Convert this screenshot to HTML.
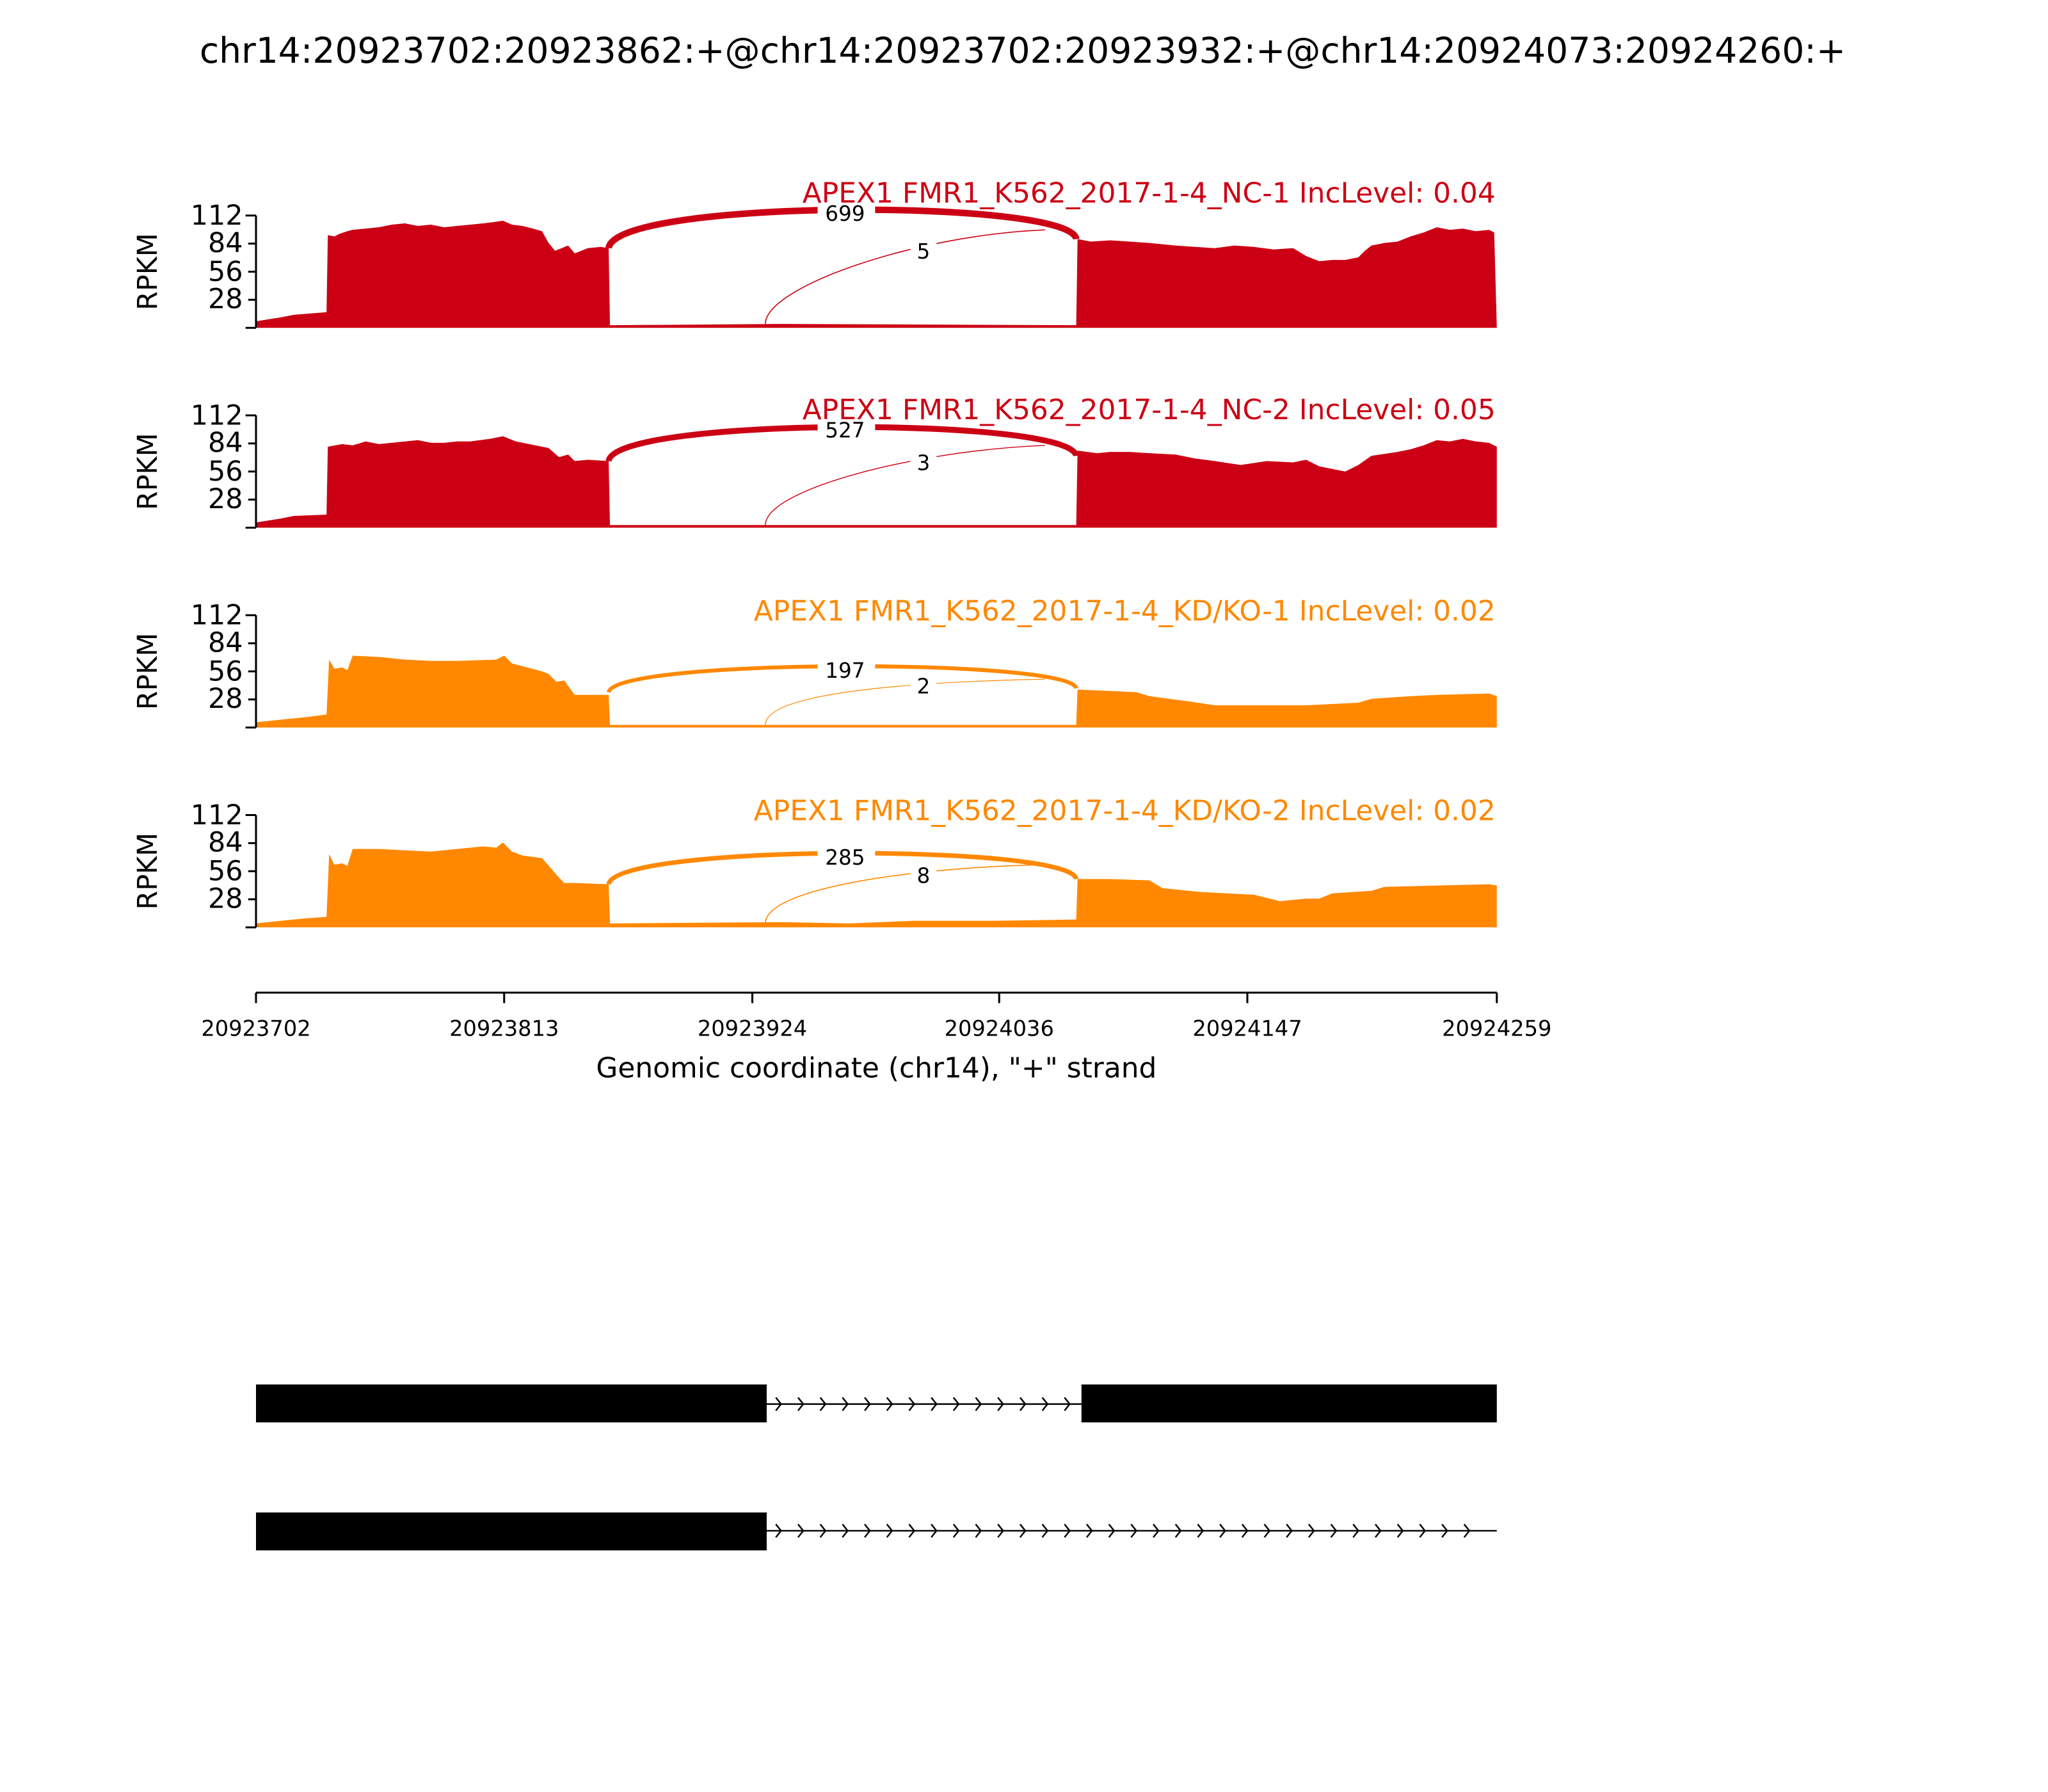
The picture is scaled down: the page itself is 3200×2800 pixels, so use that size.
<!DOCTYPE html>
<html><head><meta charset="utf-8"><style>
html,body{margin:0;padding:0;background:#fff;}
svg{display:block;}
text{font-family:"DejaVu Sans","Liberation Sans",sans-serif;}
</style></head><body>
<svg width="3200" height="2800" viewBox="0 0 1568 1372" xmlns="http://www.w3.org/2000/svg">
<defs>
<pattern id="chev" x="590" y="0" width="17" height="1400" patternUnits="userSpaceOnUse">
<path d="M4,-5 L8,0 L4,5" fill="none" stroke="#000" stroke-width="1.2" transform="translate(0,1075)"/>
<path d="M4,-5 L8,0 L4,5" fill="none" stroke="#000" stroke-width="1.2" transform="translate(0,1172)"/>
</pattern>
</defs>
<rect width="1568" height="1372" fill="#fff"/>
<text x="783" y="48" font-size="27" text-anchor="middle">chr14:20923702:20923862:+@chr14:20923702:20923932:+@chr14:20924073:20924260:+</text>

<!-- Panel 1 -->
<g>
<path fill="#cc0014" d="M196,251 L196,246 L215,243 L225,241 L250,239 L251,180 L256,181 L260,179 L266,177 L270,176 L280,175 L290,174 L300,172 L310,171 L320,173 L330,172 L340,174 L350,173 L360,172 L370,171 L378,170 L385,169 L392,172 L400,173 L408,175 L415,177 L420,186 L425,192 L430,190 L435,188 L440,194 L445,192 L450,190 L460,189 L466,190 L467,249 L600,248 L824,249 L825,183 L835,185 L850,184 L865,185 L880,186 L890,187 L900,188 L915,189 L930,190 L945,188 L960,189 L975,191 L990,190 L1000,196 L1010,200 L1020,199 L1030,199 L1040,197 L1045,192 L1050,188 L1060,186 L1070,185 L1080,181 L1090,178 L1100,174 L1110,176 L1120,175 L1130,177 L1140,176 L1144,178 L1146,251 Z"/>
<path d="M466,190 C470,152 820,152 824,183" fill="none" stroke="#cc0014" stroke-width="5"/>
<path d="M586,248 C586,220 700,180 800,176" fill="none" stroke="#cc0014" stroke-width="0.8"/>
<rect x="626" y="153" width="44" height="19" fill="#fff"/>
<text x="647" y="169" font-size="16" text-anchor="middle">699</text>
<rect x="697" y="182" width="20" height="19" fill="#fff"/>
<text x="707" y="198" font-size="16" text-anchor="middle">5</text>
<text x="1145" y="155" font-size="21.5" text-anchor="end" fill="#cc0014">APEX1 FMR1_K562_2017-1-4_NC-1 IncLevel: 0.04</text>
<path d="M196,165 V251 M188,165 H196 M190,186.5 H196 M190,208 H196 M190,229.5 H196 M188,251 H196" stroke="#000" stroke-width="1.5" fill="none"/>
<g font-size="21" text-anchor="end"><text x="186" y="172">112</text><text x="186" y="193">84</text><text x="186" y="215">56</text><text x="186" y="236">28</text></g>
<text transform="translate(120,208) rotate(-90)" font-size="21" text-anchor="middle">RPKM</text>
</g>

<!-- Panel 2 -->
<g>
<path fill="#cc0014" d="M196,404 L196,400 L215,397 L225,395 L250,394 L251,342 L262,340 L270,341 L280,338 L290,340 L300,339 L310,338 L320,337 L330,339 L340,339 L350,338 L360,338 L375,336 L385,334 L395,338 L410,341 L420,343 L428,350 L435,348 L440,353 L450,352 L466,353 L467,402 L824,402 L825,345 L840,347 L850,346 L865,346 L880,347 L900,348 L915,351 L930,353 L950,356 L970,353 L990,354 L1000,352 L1010,357 L1030,361 L1040,356 L1050,349 L1070,346 L1080,344 L1090,341 L1100,337 L1110,338 L1120,336 L1130,338 L1140,339 L1146,342 L1146,404 Z"/>
<path d="M466,353 C470,319 820,319 824,349" fill="none" stroke="#cc0014" stroke-width="4.5"/>
<path d="M586,402 C586,375 700,345 800,341" fill="none" stroke="#cc0014" stroke-width="0.7"/>
<rect x="626" y="319" width="44" height="19" fill="#fff"/>
<text x="647" y="335" font-size="16" text-anchor="middle">527</text>
<rect x="697" y="344" width="20" height="19" fill="#fff"/>
<text x="707" y="360" font-size="16" text-anchor="middle">3</text>
<text x="1145" y="321" font-size="21.5" text-anchor="end" fill="#cc0014">APEX1 FMR1_K562_2017-1-4_NC-2 IncLevel: 0.05</text>
<path d="M196,318 V404 M188,318 H196 M190,339.5 H196 M190,361 H196 M190,382.5 H196 M188,404 H196" stroke="#000" stroke-width="1.5" fill="none"/>
<g font-size="21" text-anchor="end"><text x="186" y="325">112</text><text x="186" y="346">84</text><text x="186" y="368">56</text><text x="186" y="389">28</text></g>
<text transform="translate(120,361) rotate(-90)" font-size="21" text-anchor="middle">RPKM</text>
</g>

<!-- Panel 3 -->
<g>
<path fill="#ff8800" d="M196,557 L196,553 L215,551 L235,549 L250,547 L252,505 L256,512 L262,511 L266,513 L270,502 L290,503 L310,505 L330,506 L350,506 L380,505 L386,502 L392,508 L400,510 L415,514 L420,516 L426,522 L432,521 L440,532 L466,532 L467,555 L824,555 L825,528 L850,529 L870,530 L880,533 L910,537 L930,540 L960,540 L1000,540 L1020,539 L1040,538 L1050,535 L1080,533 L1100,532 L1140,531 L1146,533 L1146,557 Z"/>
<path d="M466,530 C470,504 820,504 824,527" fill="none" stroke="#ff8800" stroke-width="3"/>
<path d="M586,555 C586,530 700,522 800,520" fill="none" stroke="#ff8800" stroke-width="0.6"/>
<rect x="626" y="503" width="44" height="19" fill="#fff"/>
<text x="647" y="519" font-size="16" text-anchor="middle">197</text>
<rect x="697" y="515" width="20" height="19" fill="#fff"/>
<text x="707" y="531" font-size="16" text-anchor="middle">2</text>
<text x="1145" y="475" font-size="21.5" text-anchor="end" fill="#ff8800">APEX1 FMR1_K562_2017-1-4_KD/KO-1 IncLevel: 0.02</text>
<path d="M196,471 V557 M188,471 H196 M190,492.5 H196 M190,514 H196 M190,535.5 H196 M188,557 H196" stroke="#000" stroke-width="1.5" fill="none"/>
<g font-size="21" text-anchor="end"><text x="186" y="478">112</text><text x="186" y="499">84</text><text x="186" y="521">56</text><text x="186" y="542">28</text></g>
<text transform="translate(120,514) rotate(-90)" font-size="21" text-anchor="middle">RPKM</text>
</g>

<!-- Panel 4 -->
<g>
<path fill="#ff8800" d="M196,710 L196,707 L215,705 L235,703 L250,702 L252,654 L256,662 L262,661 L266,663 L270,650 L290,650 L310,651 L330,652 L350,650 L370,648 L380,649 L385,645 L392,652 L400,655 L415,657 L422,665 L428,672 L432,676 L440,676 L466,677 L467,707 L600,706 L650,707 L700,705 L760,705 L824,704 L825,673 L850,673 L880,674 L890,680 L920,683 L960,685 L980,690 L1000,688 L1010,688 L1020,684 L1050,682 L1060,679 L1100,678 L1140,677 L1146,678 L1146,710 Z"/>
<path d="M466,677 C470,646 820,646 824,673" fill="none" stroke="#ff8800" stroke-width="3.5"/>
<path d="M586,707 C586,680 700,664 800,662" fill="none" stroke="#ff8800" stroke-width="0.8"/>
<rect x="626" y="646" width="44" height="19" fill="#fff"/>
<text x="647" y="662" font-size="16" text-anchor="middle">285</text>
<rect x="697" y="660" width="20" height="19" fill="#fff"/>
<text x="707" y="676" font-size="16" text-anchor="middle">8</text>
<text x="1145" y="628" font-size="21.5" text-anchor="end" fill="#ff8800">APEX1 FMR1_K562_2017-1-4_KD/KO-2 IncLevel: 0.02</text>
<path d="M196,624 V710 M188,624 H196 M190,645.5 H196 M190,667 H196 M190,688.5 H196 M188,710 H196" stroke="#000" stroke-width="1.5" fill="none"/>
<g font-size="21" text-anchor="end"><text x="186" y="631">112</text><text x="186" y="652">84</text><text x="186" y="674">56</text><text x="186" y="695">28</text></g>
<text transform="translate(120,667) rotate(-90)" font-size="21" text-anchor="middle">RPKM</text>
</g>

<!-- X axis -->
<path d="M196,760 H1146 M196,760 V768 M386,760 V768 M576,760 V768 M765,760 V768 M955,760 V768 M1146,760 V768" stroke="#000" stroke-width="1.5" fill="none"/>
<g font-size="16.5" text-anchor="middle">
<text x="196" y="793">20923702</text><text x="386" y="793">20923813</text><text x="576" y="793">20923924</text><text x="765" y="793">20924036</text><text x="955" y="793">20924147</text><text x="1146" y="793">20924259</text>
</g>
<text x="671" y="825" font-size="21.5" text-anchor="middle">Genomic coordinate (chr14), "+" strand</text>

<!-- Gene model -->
<line x1="586" y1="1075" x2="828" y2="1075" stroke="#000" stroke-width="1.2"/>
<rect x="586" y="1065" width="240" height="20" fill="url(#chev)"/>
<rect x="196" y="1060" width="391" height="29" fill="#000"/>
<rect x="828" y="1060" width="318" height="29" fill="#000"/>
<line x1="586" y1="1172" x2="1146" y2="1172" stroke="#000" stroke-width="1.2"/>
<rect x="586" y="1162" width="550" height="20" fill="url(#chev)"/>
<rect x="196" y="1158" width="391" height="29" fill="#000"/>
</svg>
</body></html>
